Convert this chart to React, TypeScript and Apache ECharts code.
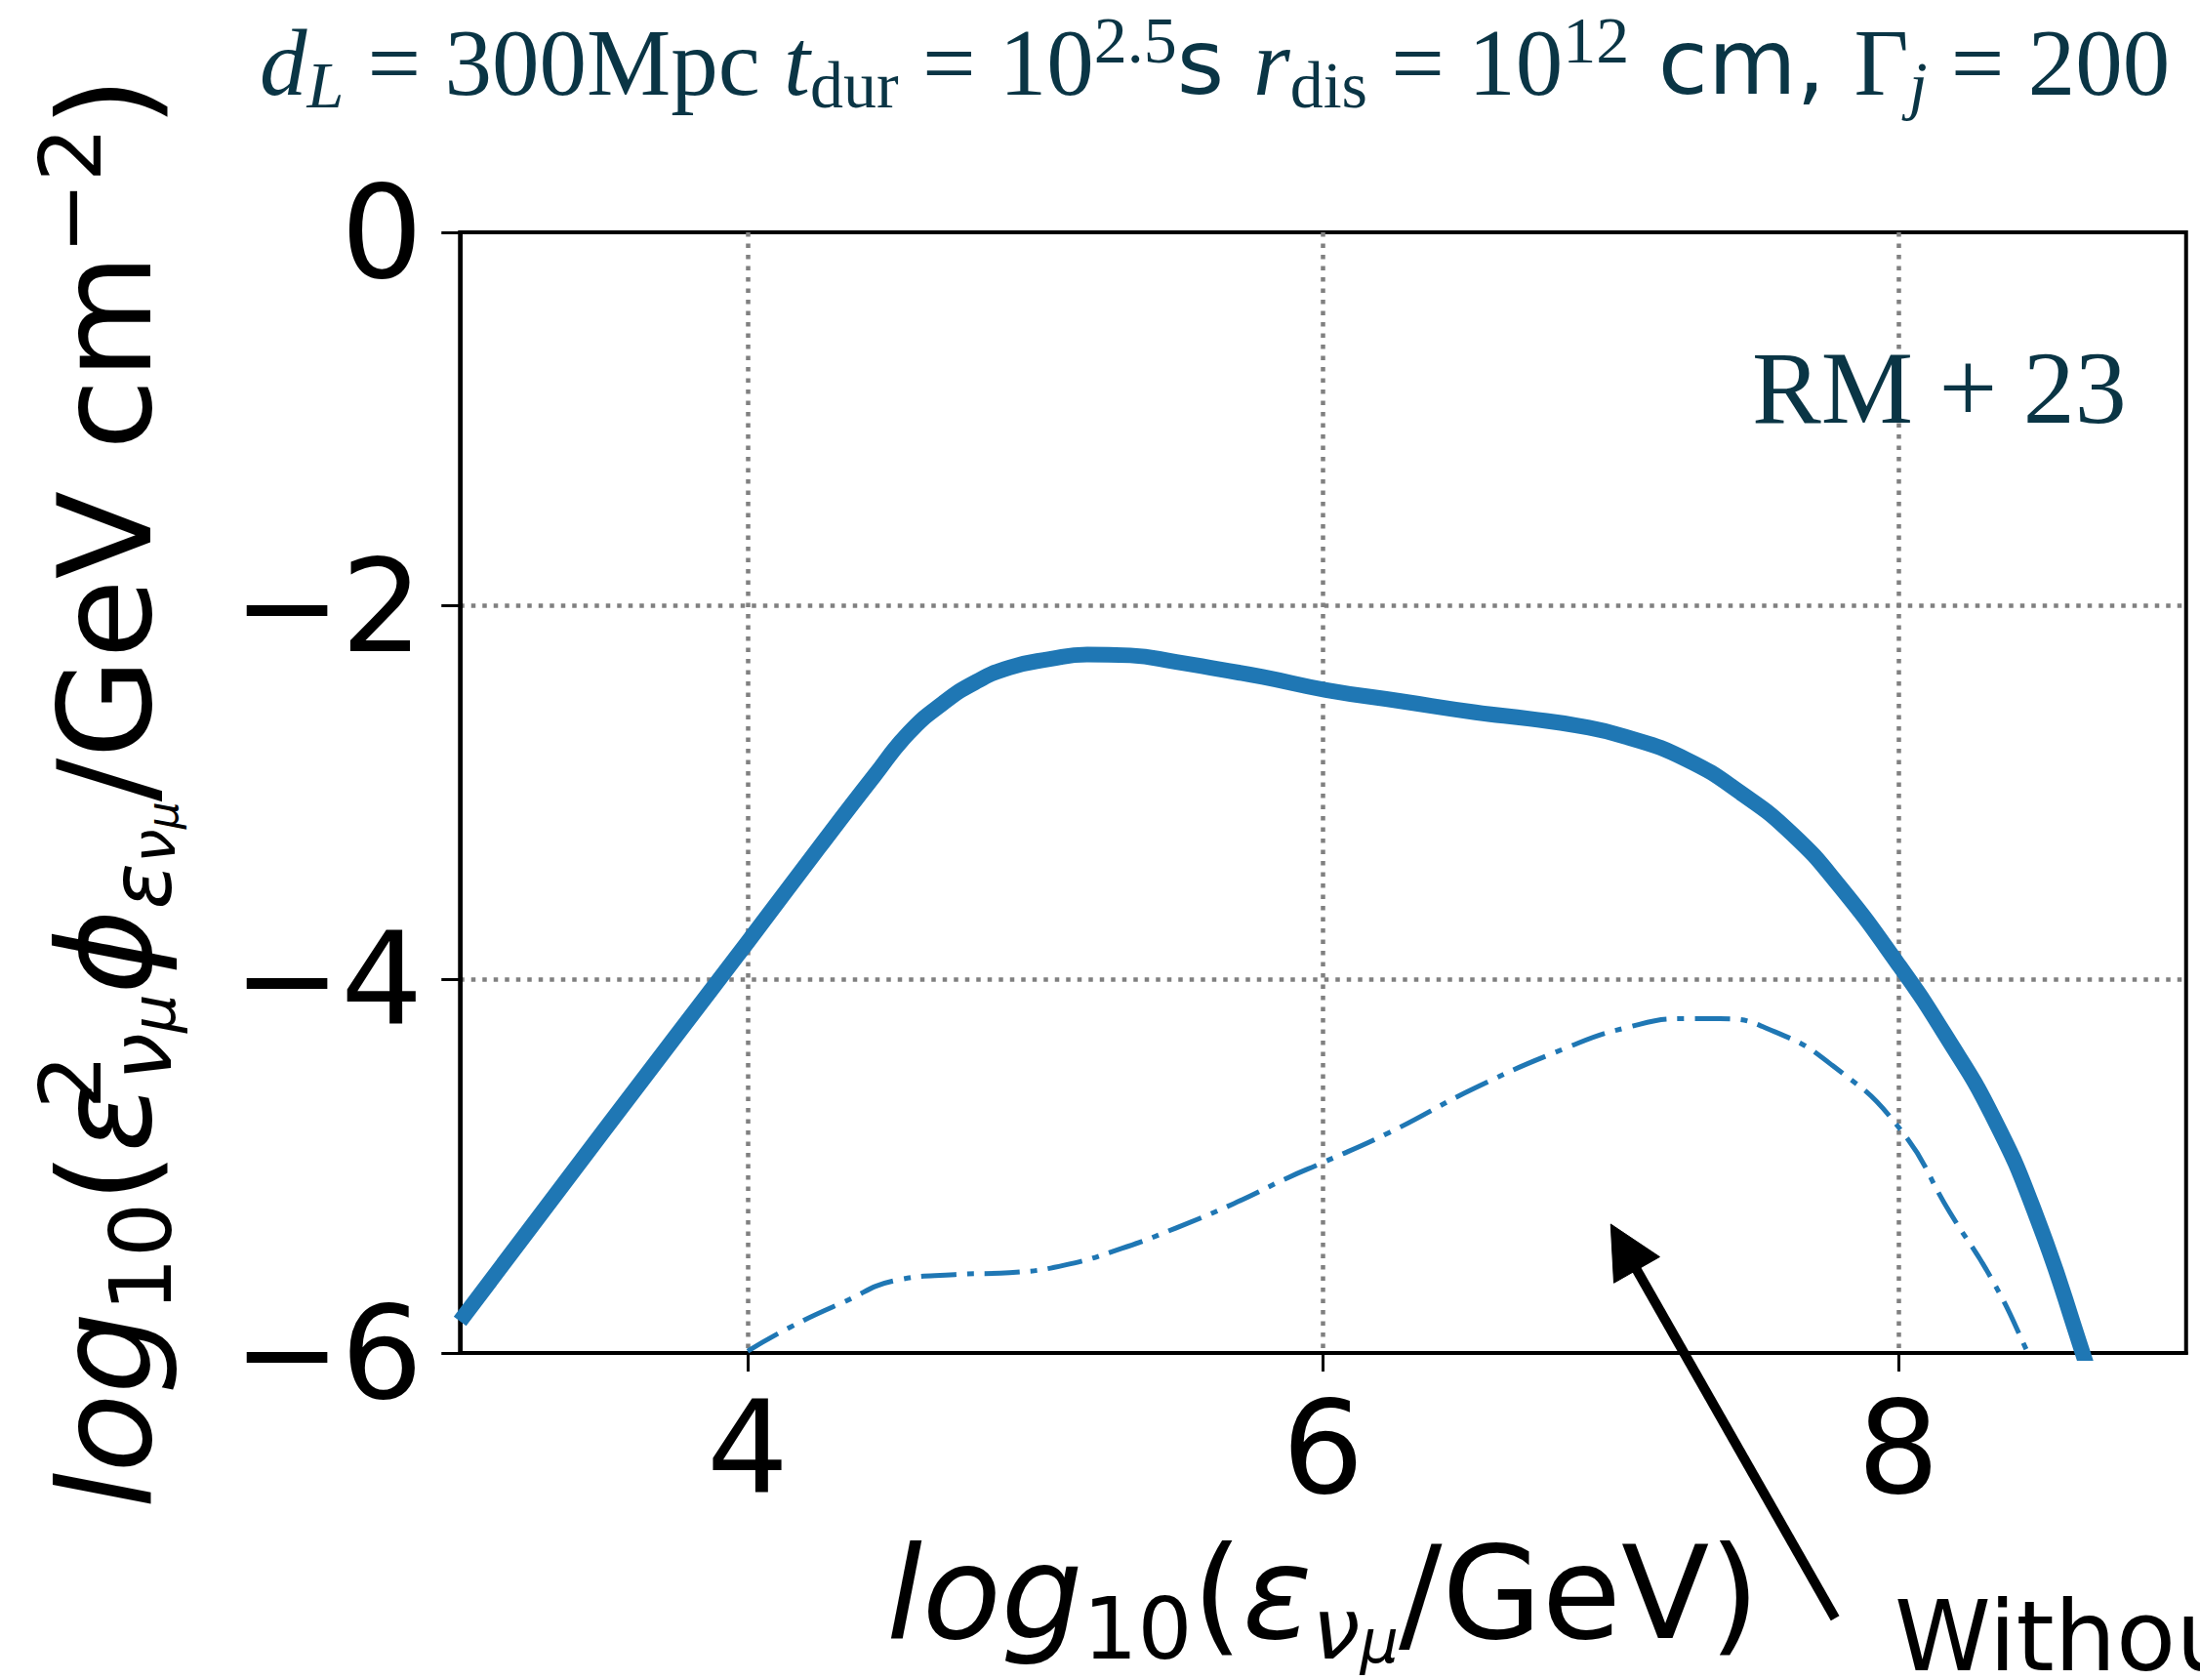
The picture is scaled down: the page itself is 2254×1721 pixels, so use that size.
import React, { useEffect, useRef } from "react";
import * as echarts from "echarts";

// ---- data ----
const xSolid = [3.0, 3.5, 4.0, 4.25, 4.44, 4.56, 4.68, 4.79, 4.91, 5.05, 5.18, 5.33, 5.49, 5.64, 5.79, 6.01, 6.27, 6.53, 6.72, 6.88, 7.05, 7.26, 7.46, 7.63, 7.79, 8.0, 8.16, 8.33, 8.48, 8.63, 8.72];
const ySolid = [-5.83, -4.81, -3.8, -3.29, -2.91, -2.68, -2.52, -2.41, -2.33, -2.285, -2.26, -2.265, -2.3, -2.34, -2.38, -2.45, -2.51, -2.57, -2.605, -2.64, -2.7, -2.82, -3.01, -3.22, -3.49, -3.92, -4.29, -4.74, -5.27, -5.95, -6.4];
const xDash = [4.0, 4.15, 4.33, 4.52, 4.72, 4.91, 5.1, 5.3, 5.49, 5.69, 5.88, 6.0, 6.23, 6.53, 6.84, 7.05, 7.26, 7.38, 7.57, 7.77, 8.0, 8.18, 8.33, 8.45, 8.52];
const yDash = [-5.99, -5.86, -5.73, -5.61, -5.58, -5.57, -5.53, -5.44, -5.33, -5.2, -5.06, -4.98, -4.82, -4.58, -4.37, -4.26, -4.21, -4.21, -4.28, -4.46, -4.79, -5.25, -5.62, -6.0, -6.25];
const xTicks = [4, 6, 8];
const yMin = -6;
const yMax = 0;
const yStep = 2;
const xMin = 3;
const xMax = 9;
const arrowHead = [7.0, -5.31];
const arrowTail = [7.78, -7.42];

const TEAL = "#0a3545";
const BLUE = "#1f77b4";
const GRIDC = "#808080";

function rs(o: any) {
  return { ...o, color: o.fill, verticalAlign: o.va, va: undefined };
}

const F = 132;
const L = 160;
const sans = "DejaVu Sans";
const axisRich: any = {
  i: rs({ fontFamily: sans, fontStyle: "italic", fontSize: F, lineHeight: L, va: "middle", fill: "#000" }),
  r: rs({ fontFamily: sans, fontSize: F, lineHeight: L, va: "middle", fill: "#000" }),
  sub: rs({ fontFamily: sans, fontSize: 88, lineHeight: 86, va: "bottom", fill: "#000" }),
  isub: rs({ fontFamily: sans, fontStyle: "italic", fontSize: 88, lineHeight: 86, va: "bottom", fill: "#000" }),
  isub2: rs({ fontFamily: sans, fontStyle: "italic", fontSize: 88, lineHeight: 56, va: "bottom", fill: "#000" }),
  issub: rs({ fontFamily: sans, fontStyle: "italic", fontSize: 62, lineHeight: 38, va: "bottom", fill: "#000" }),
  issub2: rs({ fontFamily: sans, fontStyle: "italic", fontSize: 62, lineHeight: 10, va: "bottom", fill: "#000" }),
  isssub: rs({ fontFamily: sans, fontStyle: "italic", fontSize: 44, lineHeight: 6, va: "bottom", fill: "#000" }),
  sup: rs({ fontFamily: sans, fontSize: 88, lineHeight: 84, va: "top", fill: "#000" }),
  supz: rs({ fontFamily: sans, fontSize: 88, lineHeight: 84, va: "top", fill: "#000", width: 2 }),
};

const xName = "{i|log}{sub|10}{r|(}{i|ε}{isub|ν}{issub|μ}{r|/GeV)}";
const yName = "{i|log}{sub|10}{r|(}{i|ε}{supz|2}{isub2|ν}{issub2|μ}{i|ϕ}{isub|ε}{issub|ν}{isssub|μ}{r|/GeV cm}{sup|−2}{r|)}";

const TF = 97;
const TS = 93;
const TL = 114;
const serif = "Liberation Serif";
const titleRich: any = {
  i: rs({ fontFamily: serif, fontStyle: "italic", fontSize: TF, lineHeight: TL, va: "middle", fill: TEAL }),
  r: rs({ fontFamily: serif, fontSize: TF, lineHeight: TL, va: "middle", fill: TEAL }),
  s: rs({ fontFamily: sans, fontSize: TS, lineHeight: TL, va: "middle", fill: TEAL }),
  isub: rs({ fontFamily: serif, fontStyle: "italic", fontSize: 68, lineHeight: 48, va: "bottom", fill: TEAL }),
  rsub: rs({ fontFamily: serif, fontSize: 68, lineHeight: 48, va: "bottom", fill: TEAL }),
  rsup: rs({ fontFamily: serif, fontSize: 68, lineHeight: 61, va: "top", fill: TEAL }),
};
const titleText = "{i|d}{isub|L}{r| = 300Mpc }{i|t}{rsub|dur}{r| = 10}{rsup|2.5}{s|s }{i|r}{rsub|dis}{r| = 10}{rsup|12}{s| cm, }{r|Γ}{isub|j}{r| = 200}";

export default function App() {
  const ref = useRef<HTMLDivElement>(null);
  useEffect(() => {
    document.body.style.margin = "0";
    const chart = echarts.init(ref.current!, null, { renderer: "svg" });
    const gridLineStyle = { color: GRIDC, width: 4.5, type: [4.5, 7] };
    const option: any = {
      animation: false,
      backgroundColor: "#fff",
      grid: {
        left: 471.25,
        right: 14.25,
        top: 238,
        bottom: 335,
        show: true,
        borderColor: "#000",
        borderWidth: 4,
        backgroundColor: "transparent",
      },
      xAxis: {
        type: "value",
        min: xMin,
        max: xMax,
        axisLine: { show: true, onZero: false, lineStyle: { color: "#000", width: 4 } },
        axisTick: { show: true, inside: false, length: 19, lineStyle: { color: "#000", width: 3 }, customValues: xTicks },
        axisLabel: { customValues: xTicks, fontSize: 132, fontFamily: sans, color: "#000", margin: 31 },
        splitLine: { show: true, lineStyle: gridLineStyle },
        name: xName,
        nameLocation: "middle",
        nameGap: 166,
        nameTextStyle: { rich: axisRich },
      },
      yAxis: {
        type: "value",
        min: yMin,
        max: yMax,
        interval: yStep,
        axisLine: { show: true, onZero: false, lineStyle: { color: "#000", width: 4 } },
        axisTick: { show: true, inside: false, length: 19, lineStyle: { color: "#000", width: 3 } },
        axisLabel: {
          fontSize: 132,
          fontFamily: sans,
          color: "#000",
          margin: 38,
          formatter: (v: number) => (v < 0 ? "\u2212" + Math.abs(v) : String(v)),
        },
        splitLine: { show: true, showMinLine: false, showMaxLine: false, lineStyle: gridLineStyle },
        name: yName,
        nameLocation: "middle",
        nameRotate: 90,
        nameGap: 283,
        nameTextStyle: { rich: axisRich },
      },
      series: [
        {
          type: "line",
          data: xSolid.map((x, i) => [x, ySolid[i]]),
          symbol: "none",
          smooth: 0.5,
          clip: true,
          z: 3,
          lineStyle: { color: BLUE, width: 16, cap: "butt", join: "round" },
        },
        {
          type: "line",
          data: xDash.map((x, i) => [x, yDash[i]]),
          symbol: "none",
          smooth: 0.5,
          clip: true,
          z: 2,
          lineStyle: { color: BLUE, width: 5, type: [36, 11, 7, 11], cap: "butt", join: "round" },
        },
      ],
    };
    chart.setOption(option);

    const tip = chart.convertToPixel({ gridIndex: 0 }, arrowHead) as number[];
    const tail = chart.convertToPixel({ gridIndex: 0 }, arrowTail) as number[];
    const dx = tip[0] - tail[0];
    const dy = tip[1] - tail[1];
    const len = Math.hypot(dx, dy);
    const ux = dx / len;
    const uy = dy / len;
    const nx = -uy;
    const ny = ux;
    const headLen = 54;
    const headHalf = 27;
    const bx = tip[0] - ux * headLen;
    const by = tip[1] - uy * headLen;

    chart.setOption({
      graphic: [
        {
          id: "title",
          type: "text",
          x: 266,
          y: 7,
          style: {
            text: titleText,
            rich: titleRich,
            align: "left",
            verticalAlign: "top",
            textAlign: "left",
            textVerticalAlign: "top",
          },
        },
        {
          id: "rm",
          type: "text",
          x: 1795,
          y: 397,
          style: {
            text: "RM + 23",
            fontFamily: serif,
            fontSize: 106,
            fill: TEAL,
            align: "left",
            verticalAlign: "middle",
            textAlign: "left",
            textVerticalAlign: "middle",
          },
        },
        {
          id: "without",
          type: "text",
          x: 1941,
          y: 1676,
          style: {
            text: "Without",
            fontFamily: sans,
            fontSize: 100,
            fill: "#000",
            align: "left",
            verticalAlign: "middle",
            textAlign: "left",
            textVerticalAlign: "middle",
          },
        },
        {
          id: "shaft",
          type: "line",
          shape: { x1: tail[0], y1: tail[1], x2: bx + ux * 6, y2: by + uy * 6 },
          style: { stroke: "#000", lineWidth: 10 },
          z: 10,
        },
        {
          id: "head",
          type: "polygon",
          shape: {
            points: [
              [tip[0], tip[1]],
              [bx + nx * headHalf, by + ny * headHalf],
              [bx - nx * headHalf, by - ny * headHalf],
            ],
          },
          style: { fill: "#000", stroke: "#000", lineWidth: 1 },
          z: 10,
        },
      ],
    });

    return () => chart.dispose();
  }, []);
  return <div ref={ref} style={{ width: 2254, height: 1721 }} />;
}
